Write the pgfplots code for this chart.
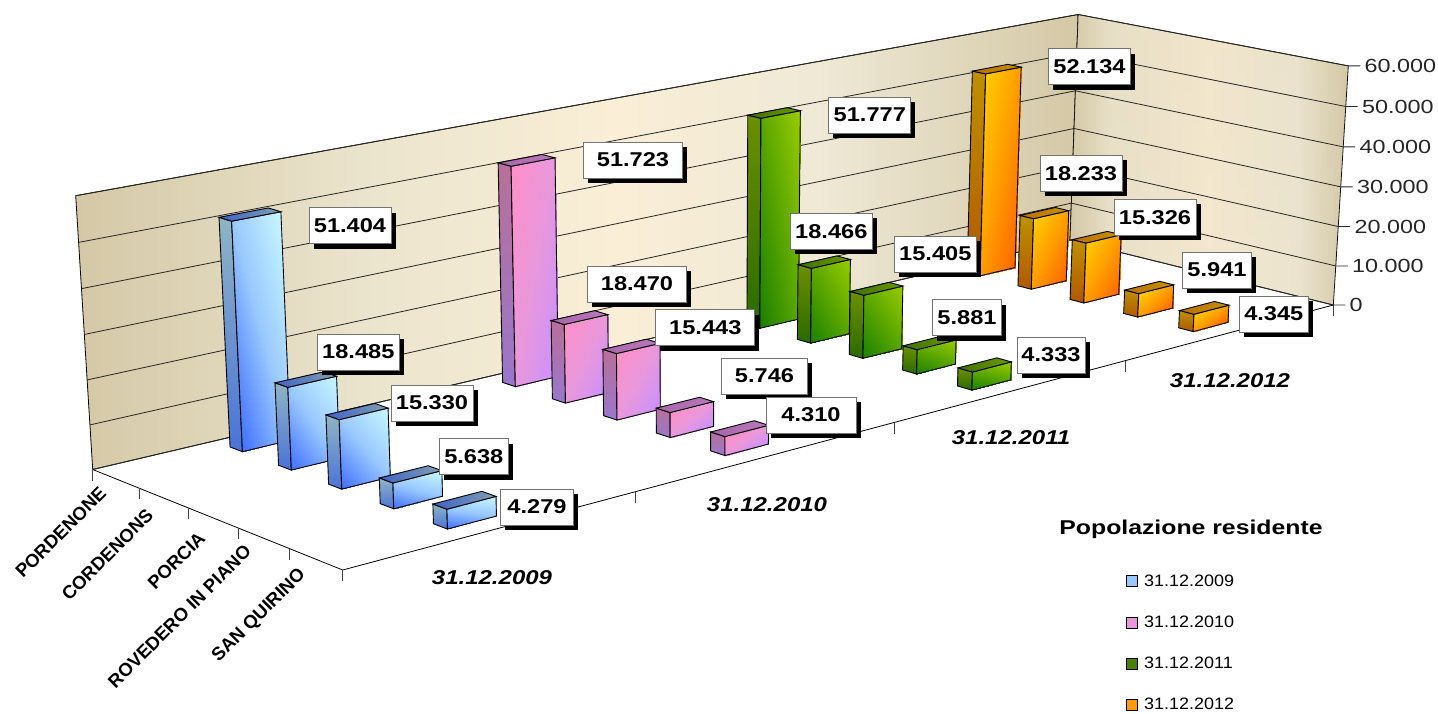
\documentclass[border=0pt]{standalone}
\usepackage{fontspec}
\usepackage{graphicx}
\usepackage{pgfplots}
\usepackage{pgfplotstable}
\usetikzlibrary{fadings}
\pgfplotsset{compat=1.18}
\setmainfont{Liberation Sans}

% Palette: (a) start, (b) middle, (c) end of each front face's gradient
\definecolor{fa0}{HTML}{3F6FFF}\definecolor{fb0}{HTML}{99C8FF}\definecolor{fc0}{HTML}{C8F8FF}
\definecolor{sa0}{HTML}{4A72D8}\definecolor{sc0}{HTML}{8FB5C4}
\definecolor{ta0}{HTML}{3F62C8}\definecolor{tc0}{HTML}{7FA0B0}
\definecolor{fa1}{HTML}{FF90C8}\definecolor{fb1}{HTML}{E898DC}\definecolor{fc1}{HTML}{C890FF}
\definecolor{sa1}{HTML}{9977CC}\definecolor{sc1}{HTML}{B87098}
\definecolor{ta1}{HTML}{A866AA}\definecolor{tc1}{HTML}{BB77BB}
\definecolor{fa2}{HTML}{1A8000}\definecolor{fb2}{HTML}{5AA600}\definecolor{fc2}{HTML}{99CC00}
\definecolor{sa2}{HTML}{2A6A00}\definecolor{sc2}{HTML}{6B9000}
\definecolor{ta2}{HTML}{3F7000}\definecolor{tc2}{HTML}{6A9A00}
\definecolor{fa3}{HTML}{FFCC00}\definecolor{fb3}{HTML}{FF9C00}\definecolor{fc3}{HTML}{FF6600}
\definecolor{sa3}{HTML}{B05800}\definecolor{sc3}{HTML}{C09000}
\definecolor{ta3}{HTML}{B87000}\definecolor{tc3}{HTML}{C89000}
\definecolor{tan1}{HTML}{D4C8A6}
\definecolor{tan2}{HTML}{ECE5CE}
\definecolor{tan3}{HTML}{FAEED6}
\definecolor{tan4}{HTML}{EFE9D6}

\pgfplotsset{
  colormap={front0}{color(0cm)=(fa0); color(1cm)=(fb0); color(2cm)=(fc0)},
  colormap={front1}{color(0cm)=(fa1); color(1cm)=(fb1); color(2cm)=(fc1)},
  colormap={front2}{color(0cm)=(fa2); color(1cm)=(fb2); color(2cm)=(fc2)},
  colormap={front3}{color(0cm)=(fa3); color(1cm)=(fb3); color(2cm)=(fc3)},
}

\pgfdeclarehorizontalshading{backwall}{100bp}{
  color(0bp)=(tan1); color(25bp)=(tan1); color(40bp)=(tan2); color(52bp)=(tan3);
  color(62bp)=(tan4); color(75bp)=(tan1); color(100bp)=(tan1)}
\pgfdeclarehorizontalshading{sidewall}{100bp}{
  color(0bp)=(tan1); color(25bp)=(tan1); color(32bp)=(tan2); color(50bp)=(tan3);
  color(66bp)=(tan4); color(75bp)=(tan1); color(100bp)=(tan1)}
\tikzfading[name=wallbands,top color=transparent!78,middle color=transparent!100,bottom color=transparent!85]

% Unit faces of a bar: a runs along the years, b along the towns, c upward
\pgfplotstableread{
a b c
0 0 0
1 0 0
1 0 1
0 0 1
}\backquad
\pgfplotstableread{
a b c
1 0 0
1 1 0
1 1 1
1 0 1
}\rightquad
\pgfplotstableread{
a b c
0 1 0
1 1 0
1 1 1
0 1 1
}\frontquad
% The front face as two triangles.
% m: gradient from lower left to upper right; n: from upper left to lower right
\pgfplotstableread{
a b c m n
0 1 0 0 0.5
1 1 0 0.5 1
1 1 1 1 0.5
0 1 0 0 0.5
1 1 1 1 0.5
0 1 1 0.5 0
}\fronttris
\pgfplotstableread{
a b c
0 0 0
0 1 0
0 1 1
0 0 1
}\sidequad
\pgfplotstableread{
a b c
0 0 1
1 0 1
1 1 1
0 1 1
}\topquad
\pgfplotstableread{
a b t
0 0 0
1 0 0
1 1 0
1 1 1
}\gridtrace
\pgfplotstableread{
s t
0 0
0 1
}\ticktrace
\pgfplotstableread{
a b
0 0
0 1
1 1
}\flooredge

\tikzset{
  side0/.style={draw=black,line width=.9pt,bottom color=sa0,top color=sc0},
  side1/.style={draw=black,line width=.9pt,bottom color=sa1,top color=sc1},
  side2/.style={draw=black,line width=.9pt,bottom color=sa2,top color=sc2},
  side3/.style={draw=black,line width=.9pt,bottom color=sa3,top color=sc3},
  top0/.style={draw=black,line width=.9pt,left color=ta0,right color=tc0},
  top1/.style={draw=black,line width=.9pt,left color=ta1,right color=tc1},
  top2/.style={draw=black,line width=.9pt,left color=ta2,right color=tc2},
  top3/.style={draw=black,line width=.9pt,left color=ta3,right color=tc3},
}

% One face (#1 style stem, #2 unit table) of the bar of year #3, town #4, value #5
\newcommand{\barface}[5]{%
  \addplot[#1#3,forget plot] table[
    x expr={PX(0.103+0.25*#3+0.042*\thisrow{a},0.0675+0.2017*#4+0.052*\thisrow{b},#5/60000*\thisrow{c})},
    y expr={PY(0.103+0.25*#3+0.042*\thisrow{a},0.0675+0.2017*#4+0.052*\thisrow{b},#5/60000*\thisrow{c})}
  ] {#2} -- cycle;%
}
% Front face: gradient patches, then the outline
\newcommand{\barfront}[3]{%
  \addplot[patch,shader=interp,colormap name=front#1,forget plot,
    point meta={\thisrow{m}*(1-mod(#1,2))+\thisrow{n}*mod(#1,2)}] table[
    x expr={PX(0.103+0.25*#1+0.042*\thisrow{a},0.0675+0.2017*#2+0.052*\thisrow{b},#3/60000*\thisrow{c})},
    y expr={PY(0.103+0.25*#1+0.042*\thisrow{a},0.0675+0.2017*#2+0.052*\thisrow{b},#3/60000*\thisrow{c})}
  ] {\fronttris};%
  \addplot[draw=black,line width=.9pt,forget plot] table[
    x expr={PX(0.103+0.25*#1+0.042*\thisrow{a},0.0675+0.2017*#2+0.052*\thisrow{b},#3/60000*\thisrow{c})},
    y expr={PY(0.103+0.25*#1+0.042*\thisrow{a},0.0675+0.2017*#2+0.052*\thisrow{b},#3/60000*\thisrow{c})}
  ] {\frontquad} -- cycle;%
}
\newcommand{\drawbar}[7]{%
  \barface{side}{\sidequad}{#1}{#2}{#3}%
  \barfront{#1}{#2}{#3}%
  \barface{top}{\topquad}{#1}{#2}{#3}}
\newcommand{\drawlabel}[7]{%
  \node[fill=black,minimum width=#7pt,minimum height=36pt,inner sep=0pt] at (axis cs:#5+4.5,#6+5) {};%
  \node[fill=white,draw=black!55,line width=.9pt,minimum width=#7pt,minimum height=36pt,inner sep=0pt]
    at (axis cs:#5,#6) {\fontsize{20}{24}\selectfont\bfseries\scalebox{1.18}[1]{#4}};%
}
% year, town, value, printed value, label centre x, y, box width
\newcommand{\allbars}[1]{%
  #1{3}{0}{52134}{52.134}{1089.5}{66.7}{82}
  #1{3}{1}{18233}{18.233}{1081}{173.3}{82}
  #1{3}{2}{15326}{15.326}{1155}{217.3}{82}
  #1{3}{3}{5941}{5.941}{1217}{270}{69}
  #1{3}{4}{4345}{4.345}{1273.8}{314}{69}
  #1{2}{0}{51777}{51.777}{869.8}{115}{82}
  #1{2}{1}{18466}{18.466}{831.3}{231.3}{82}
  #1{2}{2}{15405}{15.405}{935.3}{254}{82}
  #1{2}{3}{5881}{5.881}{967}{317.7}{69}
  #1{2}{4}{4333}{4.333}{1051}{355}{68}
  #1{1}{0}{51723}{51.723}{633}{160}{99}
  #1{1}{1}{18470}{18.470}{637}{284}{99}
  #1{1}{2}{15443}{15.443}{705.3}{327.7}{99}
  #1{1}{3}{5746}{5.746}{764.5}{376}{86}
  #1{1}{4}{4310}{4.310}{811}{415}{90}
  #1{0}{0}{51404}{51.404}{350}{225.5}{82}
  #1{0}{1}{18485}{18.485}{358.3}{352}{82}
  #1{0}{2}{15330}{15.330}{432}{403}{82}
  #1{0}{3}{5638}{5.638}{473.8}{456.5}{69}
  #1{0}{4}{4279}{4.279}{537}{507}{73}
}
% Grid line with its tick and number
\newcommand{\level}[2]{%
  \addplot[black!85,line width=.8pt,forget plot] table[
    x expr={PX(\thisrow{a},\thisrow{b},#1/60000)+12*\thisrow{t}},
    y expr={PY(\thisrow{a},\thisrow{b},#1/60000)}
  ] {\gridtrace} node[pos=1,anchor=west,inner sep=0pt,xshift=4pt]
    {\fontsize{19}{23}\selectfont\scalebox{1.23}[1]{#2}};%
}
\newcommand{\floortick}[2]{%
  \addplot[black!75,line width=.8pt,forget plot] table[
    x expr={PX(#1,#2,0)},
    y expr={PY(#1,#2,0)+11*\thisrow{t}}
  ] {\ticktrace};%
}
\newcommand{\town}[3]{\node[rotate=45,anchor=east,inner sep=0pt] at (axis cs:#1,#2)
  {\fontsize{18.5}{22}\selectfont\bfseries #3};}
\newcommand{\yeartag}[3]{\node[inner sep=0pt] at (axis cs:#1,#2)
  {\fontsize{20}{24}\selectfont\bfseries\itshape\scalebox{1.2}[1]{#3}};}

\begin{document}
\begin{tikzpicture}
\begin{axis}[
  scale only axis,width=1438pt,height=712pt,
  xmin=0,xmax=1438,ymin=0,ymax=712,y dir=reverse,
  hide axis,clip=false,
  point meta min=0,point meta max=1,
  declare function={
    den(\U,\V,\Z)=1+0.23585*\U-0.07611*\V-0.027*\Z;
    PX(\U,\V,\Z)=(92.7+1229.66*\U+223.92*\V-19.04*\Z)/den(\U,\V,\Z);
    PY(\U,\V,\Z)=(469.5-172.9*\U+57.12*\V-279.08*\Z)/den(\U,\V,\Z);
  },
  legend style={at={(axis cs:1126,572.7)},anchor=north west,draw=none,fill=none,
    row sep=24.1pt,font=\fontsize{16.5}{18}\selectfont,inner sep=0pt},
  legend cell align=left,
]
\path (axis cs:0,0) rectangle (axis cs:1438,712);

% Walls
\addplot[draw=black,line width=.8pt,shading=backwall,forget plot] table[
  x expr={PX(\thisrow{a},\thisrow{b},\thisrow{c})},
  y expr={PY(\thisrow{a},\thisrow{b},\thisrow{c})}] {\backquad} -- cycle;
\addplot[draw=black,line width=.8pt,shading=sidewall,forget plot] table[
  x expr={PX(\thisrow{a},\thisrow{b},\thisrow{c})},
  y expr={PY(\thisrow{a},\thisrow{b},\thisrow{c})}] {\rightquad} -- cycle;
\addplot[draw=none,fill=tan1,path fading=wallbands,fit fading=true,forget plot] table[
  x expr={PX(\thisrow{a},\thisrow{b},\thisrow{c})},
  y expr={PY(\thisrow{a},\thisrow{b},\thisrow{c})}] {\rightquad} -- cycle;

% Floor edges
\addplot[black,line width=.8pt,forget plot] table[
  x expr={PX(\thisrow{a},\thisrow{b},0)},
  y expr={PY(\thisrow{a},\thisrow{b},0)}] {\flooredge};

\level{0}{0}
\level{10000}{10.000}
\level{20000}{20.000}
\level{30000}{30.000}
\level{40000}{40.000}
\level{50000}{50.000}
\level{60000}{60.000}

\floortick{0}{0}\floortick{0}{0.2}\floortick{0}{0.4}\floortick{0}{0.6}\floortick{0}{0.8}\floortick{0}{1}
\floortick{0.25}{1}\floortick{0.5}{1}\floortick{0.75}{1}\floortick{1}{1}

\allbars{\drawbar}
\allbars{\drawlabel}

\town{103}{490}{PORDENONE}
\town{150}{512}{CORDENONS}
\town{202}{535}{PORCIA}
\town{248}{548}{ROVEDERO IN PIANO}
\town{303}{572}{SAN QUIRINO}

\yeartag{492}{578}{31.12.2009}
\yeartag{767}{505}{31.12.2010}
\yeartag{1011}{438}{31.12.2011}
\yeartag{1230}{381}{31.12.2012}

\node[inner sep=0pt] at (axis cs:1191,529)
  {\fontsize{20}{24}\selectfont\bfseries\scalebox{1.24}[1]{Popolazione residente}};

\addlegendimage{only marks,mark=square*,mark size=5.5pt,mark options={draw=black,line width=.9pt,fill=fb0}}
\addlegendentry{\hspace{5pt}\scalebox{1.09}[1]{31.12.2009}}
\addlegendimage{only marks,mark=square*,mark size=5.5pt,mark options={draw=black,line width=.9pt,fill=fb1}}
\addlegendentry{\hspace{5pt}\scalebox{1.09}[1]{31.12.2010}}
\addlegendimage{only marks,mark=square*,mark size=5.5pt,mark options={draw=black,line width=.9pt,fill=fb2!80!black}}
\addlegendentry{\hspace{5pt}\scalebox{1.09}[1]{31.12.2011}}
\addlegendimage{only marks,mark=square*,mark size=5.5pt,mark options={draw=black,line width=.9pt,fill=fb3}}
\addlegendentry{\hspace{5pt}\scalebox{1.09}[1]{31.12.2012}}
\end{axis}
\end{tikzpicture}
\end{document}
